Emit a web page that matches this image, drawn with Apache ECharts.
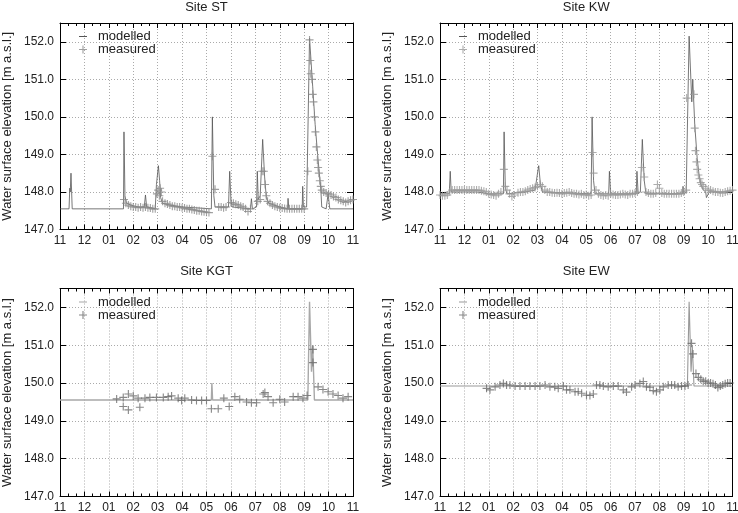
<!DOCTYPE html>
<html><head><meta charset="utf-8">
<script src="https://cdn.jsdelivr.net/npm/echarts@6/dist/echarts.min.js"></script>
<style>html,body{margin:0;padding:0;background:#fff}#c{width:738px;height:513px}</style>
</head><body><div id="c"></div>
<script>
// x values are months since 1 November (0 = 11, 12 = next 11)
const monthLabels = ['11','12','01','02','03','04','05','06','07','08','09','10','11'];
const siteTitles = ['Site ST','Site KW','Site KGT','Site EW'];
const yAxisTitle = 'Water surface elevation [m a.s.l.]';
const seriesNames = ['modelled','measured'];

const stModelled = [[0,147.55],[0.37,147.55],[0.4,148.1],[0.42,148.0],[0.45,148.5],[0.5,147.55],[2.6,147.55],[2.62,149.6],[2.66,147.9],[2.72,147.7],[2.9,147.65],[3.2,147.6],[3.45,147.6],[3.5,147.92],[3.55,147.6],[3.9,147.55],[3.95,148.2],[4.03,148.7],[4.08,148.3],[4.12,147.85],[4.2,147.7],[4.5,147.65],[5.0,147.6],[5.5,147.58],[6.2,147.55],[6.24,150.0],[6.3,147.9],[6.35,147.6],[6.9,147.6],[6.95,148.55],[7.0,147.8],[7.05,147.6],[7.8,147.55],[7.84,147.82],[7.88,147.55],[8.05,147.6],[8.08,148.55],[8.12,147.8],[8.2,147.9],[8.3,149.4],[8.38,148.4],[8.45,147.85],[8.55,147.7],[9.0,147.6],[9.32,147.55],[9.34,147.83],[9.37,147.55],[9.92,147.55],[9.94,148.15],[9.97,147.6],[10.1,147.6],[10.22,152.1],[10.35,150.8],[10.45,149.8],[10.55,149.0],[10.62,148.5],[10.68,148.1],[10.72,147.6],[10.9,147.55],[10.98,147.95],[11.05,147.55],[12,147.55]];
const stMeasured = [[2.62,147.8],[2.7,147.7],[2.8,147.65],[2.9,147.62],[3.0,147.6],[3.1,147.6],[3.2,147.58],[3.3,147.6],[3.4,147.58],[3.5,147.6],[3.6,147.58],[3.7,147.57],[3.8,147.55],[3.9,147.55],[3.97,147.95],[4.02,148.05],[4.07,147.9],[4.1,148.1],[4.15,148.0],[4.2,147.75],[4.3,147.7],[4.4,147.68],[4.5,147.65],[4.6,147.62],[4.7,147.62],[4.8,147.6],[4.9,147.6],[5.0,147.58],[5.1,147.57],[5.2,147.55],[5.3,147.55],[5.4,147.53],[5.5,147.52],[5.6,147.5],[5.7,147.5],[5.8,147.48],[5.9,147.47],[6.0,147.46],[6.1,147.45],[6.24,148.95],[6.35,148.07],[6.5,147.6],[6.6,147.6],[6.7,147.58],[6.8,147.6],[7.0,147.72],[7.1,147.7],[7.2,147.67],[7.3,147.65],[7.4,147.62],[7.5,147.6],[7.6,147.55],[7.7,147.48],[7.8,147.55],[8.1,147.75],[8.2,147.8],[8.28,148.55],[8.35,148.55],[8.4,148.2],[8.45,147.9],[8.5,147.75],[8.6,147.7],[8.7,147.65],[8.8,147.62],[8.9,147.6],[9.0,147.58],[9.1,147.57],[9.2,147.56],[9.3,147.55],[9.4,147.55],[9.5,147.55],[9.6,147.55],[9.7,147.55],[9.8,147.55],[9.9,147.55],[10.0,147.55],[10.15,148.55],[10.22,152.05],[10.25,151.5],[10.27,151.15],[10.32,151.0],[10.35,150.6],[10.38,150.4],[10.42,150.0],[10.46,149.6],[10.5,149.2],[10.54,148.85],[10.57,148.65],[10.6,148.5],[10.64,148.3],[10.68,148.15],[10.72,148.05],[10.8,148.0],[10.9,147.97],[11.0,147.95],[11.1,147.92],[11.2,147.88],[11.3,147.85],[11.4,147.8],[11.5,147.78],[11.6,147.75],[11.7,147.72],[11.8,147.75],[11.9,147.78],[12.0,147.8]];

const kwModelled = [[0,147.95],[0.38,147.95],[0.42,148.55],[0.46,148.0],[1.0,148.0],[1.5,148.0],[2.0,147.95],[2.6,147.95],[2.63,149.6],[2.68,148.1],[2.75,147.95],[3.5,148.0],[3.9,148.05],[4.0,148.5],[4.05,148.7],[4.12,148.2],[4.2,148.0],[5.0,147.98],[6.2,147.95],[6.24,150.0],[6.3,148.3],[6.36,147.95],[6.92,147.95],[6.95,148.55],[7.0,147.95],[8.05,147.95],[8.08,148.55],[8.13,147.95],[8.22,148.0],[8.3,149.4],[8.38,148.3],[8.45,147.95],[9.95,147.95],[9.97,148.15],[10.0,147.95],[10.1,148.0],[10.22,152.15],[10.33,150.4],[10.37,151.0],[10.45,149.8],[10.55,148.9],[10.62,148.5],[10.7,148.2],[10.8,148.05],[10.9,148.0],[10.93,147.85],[11.0,147.85],[11.05,148.0],[12,148.0]];
const kwMeasured = [[0.0,147.92],[0.1,147.9],[0.2,147.9],[0.3,147.92],[0.4,148.0],[0.5,148.05],[0.6,148.05],[0.7,148.05],[0.8,148.05],[0.9,148.05],[1.0,148.05],[1.1,148.05],[1.2,148.05],[1.3,148.05],[1.4,148.05],[1.5,148.05],[1.6,148.05],[1.7,148.03],[1.8,148.02],[1.9,148.0],[2.0,147.95],[2.1,147.93],[2.2,147.92],[2.3,147.9],[2.4,147.95],[2.5,148.0],[2.62,148.6],[2.68,148.15],[2.75,148.05],[2.85,147.95],[2.95,147.88],[3.05,147.92],[3.2,147.98],[3.3,148.0],[3.4,148.0],[3.5,148.02],[3.6,148.05],[3.7,148.08],[3.8,148.1],[3.9,148.12],[4.0,148.15],[4.1,148.2],[4.2,148.15],[4.3,148.05],[4.4,148.0],[4.5,148.0],[4.6,147.98],[4.7,147.97],[4.8,147.98],[4.9,147.97],[5.0,147.95],[5.1,147.97],[5.2,147.98],[5.3,148.0],[5.4,147.97],[5.5,147.95],[5.6,147.95],[5.7,147.93],[5.8,147.95],[5.9,147.92],[6.0,147.93],[6.1,147.9],[6.2,147.92],[6.26,149.05],[6.3,148.5],[6.4,148.05],[6.5,147.95],[6.6,147.92],[6.7,147.9],[6.8,147.92],[6.9,147.9],[7.0,147.95],[7.1,147.93],[7.2,147.92],[7.3,147.92],[7.4,147.93],[7.5,147.95],[7.6,147.93],[7.7,147.92],[7.8,147.95],[7.9,147.95],[8.0,147.97],[8.1,148.0],[8.28,148.65],[8.38,148.4],[8.45,148.0],[8.55,147.97],[8.65,147.95],[8.75,147.95],[8.85,147.97],[8.92,148.2],[9.0,148.1],[9.1,147.97],[9.2,147.95],[9.3,147.95],[9.4,147.95],[9.5,147.95],[9.6,147.95],[9.7,147.95],[9.8,147.95],[9.9,147.97],[10.0,148.0],[10.1,148.05],[10.12,150.5],[10.42,150.6],[10.45,149.7],[10.48,149.1],[10.52,148.8],[10.55,148.6],[10.6,148.45],[10.65,148.35],[10.7,148.25],[10.75,148.2],[10.8,148.15],[10.9,148.1],[11.0,148.05],[11.1,148.05],[11.2,148.02],[11.3,148.0],[11.4,148.0],[11.5,147.98],[11.6,147.97],[11.7,148.0],[11.8,148.02],[11.9,148.03],[12.0,148.05]];

const kgtModelled = [[0,149.55],[6.2,149.55],[6.22,150.0],[6.25,149.55],[10.15,149.55],[10.22,152.15],[10.3,150.3],[10.35,151.0],[10.42,149.55],[12,149.55]];
const kgtMeasured = [[2.32,149.58],[2.59,149.62],[2.59,149.38],[2.8,149.71],[2.8,149.29],[3.0,149.66],[3.2,149.6],[3.27,149.36],[3.48,149.6],[3.68,149.62],[3.95,149.62],[4.23,149.62],[4.43,149.64],[4.57,149.66],[4.84,149.6],[4.98,149.54],[5.11,149.6],[5.39,149.55],[5.59,149.54],[5.8,149.54],[6.0,149.54],[6.2,149.32],[6.48,149.32],[6.71,149.6],[6.93,149.38],[7.16,149.64],[7.36,149.57],[7.64,149.5],[7.84,149.48],[8.05,149.48],[8.32,149.71],[8.39,149.75],[8.52,149.64],[8.73,149.48],[9.0,149.57],[9.2,149.5],[9.55,149.64],[9.75,149.64],[9.95,149.6],[10.12,149.67],[10.36,150.89],[10.36,150.54],[10.57,149.9],[10.77,149.83],[10.98,149.77],[11.18,149.71],[11.39,149.67],[11.59,149.6],[11.8,149.64]];

const ewModelled = [[0,149.92],[10.15,149.92],[10.22,152.15],[10.3,150.3],[10.35,151.0],[10.42,149.92],[12,149.92]];
const ewMeasured = [[1.91,149.86],[2.05,149.82],[2.26,149.9],[2.46,149.95],[2.6,149.99],[2.73,149.95],[2.87,149.95],[3.08,149.92],[3.28,149.92],[3.49,149.92],[3.69,149.92],[3.9,149.92],[4.1,149.92],[4.31,149.95],[4.51,149.9],[4.71,149.9],[4.85,149.86],[5.06,149.92],[5.19,149.82],[5.33,149.82],[5.54,149.77],[5.67,149.77],[5.81,149.73],[6.01,149.68],[6.15,149.67],[6.29,149.71],[6.42,149.95],[6.56,149.95],[6.7,149.92],[6.9,149.9],[7.11,149.92],[7.31,149.92],[7.52,149.82],[7.65,149.76],[7.86,149.9],[8.0,149.95],[8.2,149.99],[8.34,150.04],[8.47,149.9],[8.61,149.89],[8.75,149.8],[8.88,149.77],[9.02,149.82],[9.16,149.9],[9.36,149.95],[9.5,149.95],[9.63,149.95],[9.77,149.9],[9.91,149.92],[10.05,149.92],[10.18,149.95],[10.32,151.05],[10.38,150.77],[10.5,150.25],[10.6,150.15],[10.7,150.1],[10.8,150.05],[10.9,150.05],[11.0,150.0],[11.1,150.0],[11.2,149.98],[11.3,149.95],[11.4,149.88],[11.5,149.92],[11.6,149.95],[11.7,149.98],[11.8,150.0],[11.9,150.0]];

const modelledSets = [stModelled, kwModelled, kgtModelled, ewModelled];
const measuredSets = [stMeasured, kwMeasured, kgtMeasured, ewMeasured];

const FONT = '"Liberation Sans", Arial, Helvetica, sans-serif';
const TXT = '#222';
const modStyle = [{c:'#555', w:0.8}, {c:'#555', w:0.8}, {c:'#a8a8a8', w:1.4}, {c:'#999', w:1.1}];
const measColor = ['#888', '#999', '#6a6a6a', '#6a6a6a'];
const plusPath = 'path://M0,4.3H10V5.7H0Z M4.3,0H5.7V10H4.3Z';
// horizontal dash, with invisible corner specks so the icon box keeps its full height
const dashPath = 'path://M0,0H0.01V0.01H0Z M0,5.4H10V6.6H0Z M9.99,11.99H10V12H9.99Z';

const grids = [
  {left:60, top:23, width:293, height:206.5},
  {left:440, top:23, width:292.5, height:206.5},
  {left:60, top:288.5, width:293, height:208},
  {left:440, top:288.5, width:292.5, height:208}
];
const titleTops = [1, 1, 264.5, 264.5];

const xAxes = [], yAxes = [], series = [], titles = [], legends = [];
const tickStyle = {show:true, inside:true, length:5, lineStyle:{color:'#000', width:1}};
const axisLineStyle = {show:true, onZero:false, lineStyle:{color:'#000', width:1}};
const gridLineStyle = {show:true, lineStyle:{color:'#aaa', width:1, type:[1,2]}};

grids.forEach((g, i) => {
  const xc = {type:'value', gridIndex:i, min:0, max:12, interval:1, axisLine:axisLineStyle, axisTick:tickStyle,
    minorTick:{show:true, splitNumber:3, length:3, lineStyle:{color:'#000', width:1}}};
  xAxes.push(Object.assign({}, xc, {position:'bottom',
    axisLabel:{show:true, margin:5, fontSize:12, color:TXT, fontFamily:FONT, formatter:v => monthLabels[Math.round(v)]},
    splitLine:gridLineStyle}));
  xAxes.push(Object.assign({}, xc, {position:'top', axisLabel:{show:false}, splitLine:{show:false}}));
  const yc = {type:'value', gridIndex:i, min:147, max:152.5, interval:1, axisLine:axisLineStyle,
    axisTick:{show:true, inside:true, length:6, lineStyle:{color:'#000', width:1}}};
  yAxes.push(Object.assign({}, yc, {position:'left',
    name:yAxisTitle, nameLocation:'middle', nameRotate:90, nameGap:46,
    nameTextStyle:{fontSize:13, color:TXT, fontFamily:FONT},
    axisLabel:{show:true, margin:6, fontSize:12, color:TXT, fontFamily:FONT,
      formatter:v => Math.abs(v - Math.round(v)) < 1e-6 ? v.toFixed(1) : ''},
    splitLine:gridLineStyle}));
  yAxes.push(Object.assign({}, yc, {position:'right', axisLabel:{show:false}, splitLine:{show:false}}));

  const mName = seriesNames[0] + '|' + i, sName = seriesNames[1] + '|' + i;
  series.push({type:'line', name:mName, xAxisIndex:2*i, yAxisIndex:2*i, data:modelledSets[i],
    showSymbol:false, symbol:'none', lineStyle:{color:modStyle[i].c, width:modStyle[i].w}, itemStyle:{color:modStyle[i].c},
    silent:true, z:2});
  series.push({type:'scatter', name:sName, xAxisIndex:2*i, yAxisIndex:2*i, data:measuredSets[i],
    symbol:plusPath, symbolSize:8, itemStyle:{color:measColor[i]}, silent:true, z:3});

  titles.push({text:siteTitles[i], left:g.left + g.width/2, top:titleTops[i], textAlign:'center', padding:0,
    textStyle:{fontSize:13, fontWeight:'normal', color:TXT, fontFamily:FONT}});
  legends.push({left:g.left + 14, top:g.top + 2, orient:'vertical', itemGap:0, itemWidth:8, itemHeight:12,
    selectedMode:false, data:[{name:mName, icon:dashPath}, {name:sName, icon:plusPath}],
    formatter:n => n.split('|')[0],
    textStyle:{fontSize:13, color:TXT, fontFamily:FONT, lineHeight:12, padding:[0,0,0,6]}});
});

const chart = echarts.init(document.getElementById('c'), null, {renderer:'canvas'});
chart.setOption({
  animation:false,
  backgroundColor:'#fff',
  title:titles,
  legend:legends,
  grid:grids.map(g => Object.assign({containLabel:false, outerBoundsMode:'none'}, g)),
  xAxis:xAxes,
  yAxis:yAxes,
  series:series
});
</script>
</body></html>
